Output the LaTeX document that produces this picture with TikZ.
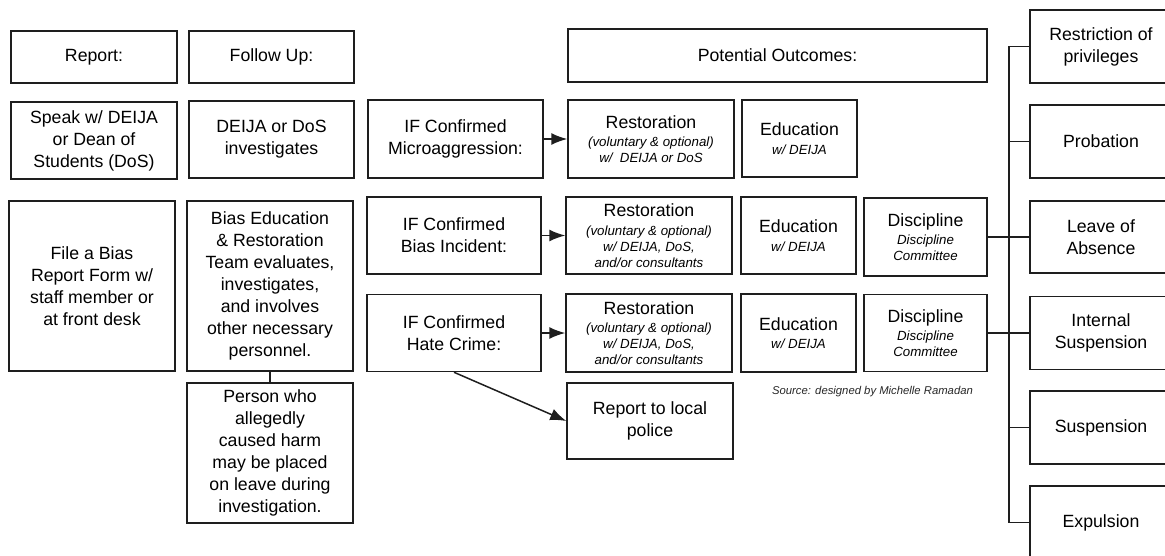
\documentclass[tikz,border=0pt]{standalone}
\usepackage{fontspec}
\setmainfont{Liberation Sans}
\usetikzlibrary{arrows.meta}
\tikzset{>={Latex[length=16pt,width=12pt]}}
\definecolor{edge}{HTML}{1E1E1E}
\newcommand\bigtxt{\fontsize{17.7}{22}\selectfont}
\newcommand\smalltxt{\fontsize{13.3}{16}\selectfont\itshape}
\newcommand\srctxt{\fontsize{11.3}{14}\selectfont\itshape}
\newcommand\headline[1]{{\bigtxt\upshape #1}}
\tikzstyle{box}=[draw=edge,line width=1.5pt,align=center,inner sep=2pt,font=\bigtxt,text=black]
\tikzstyle{twofont}=[box,font=\smalltxt]
\tikzstyle{link}=[draw=edge,line width=1.5pt]

\begin{document}
\begin{tikzpicture}[x=1pt,y=-1pt]
  \useasboundingbox (0,0) rectangle (1165,555);
  \clip (0,0) rectangle (1165,555);
  % report / follow up
  \node[box,minimum width=166pt,minimum height=52pt] (report) at (94,57) {Report:};
  \node[box,minimum width=165pt,minimum height=52pt] (follow) at (271.5,57) {Follow Up:};
  \node[box,minimum width=166pt,minimum height=77pt] (speak) at (94,140.5) {Speak w/ DEIJA\\or Dean of\\Students (DoS)};
  \node[box,minimum width=165pt,minimum height=77pt] (dosinv) at (271.5,139.5) {DEIJA or DoS\\investigates};
  \node[box,minimum width=166pt,minimum height=170pt] (fileform) at (92,286) {File a Bias\\Report Form w/\\staff member or\\at front desk};
  \node[box,minimum width=166pt,minimum height=170pt] (berteam) at (270,286) {Bias Education\\\& Restoration\\Team evaluates,\\investigates,\\and involves\\other necessary\\personnel.};
  \node[box,minimum width=166pt,minimum height=140pt] (leavenote) at (270,453) {Person who\\allegedly\\caused harm\\may be placed\\on leave during\\investigation.};
  \draw[link] (berteam) -- (leavenote);
  % confirmed cases
  \node[box,minimum width=175pt,minimum height=78pt] (micro) at (455.5,139) {IF Confirmed\\Microaggression:};
  \node[box,minimum width=174pt,minimum height=77pt] (biasinc) at (454,235.5) {IF Confirmed\\Bias Incident:};
  \node[box,minimum width=174pt,minimum height=77pt] (hate) at (454,333) {IF Confirmed\\Hate Crime:};
  % outcomes
  \node[box,minimum width=419pt,minimum height=53pt] (outcomes) at (777.5,55.5) {Potential Outcomes:};
  \node[twofont,minimum width=166pt,minimum height=78pt] (resto1) at (651,139) {\headline{Restoration}\\[2.4pt](voluntary \& optional)\\w/~~DEIJA or DoS};
  \node[twofont,minimum width=166pt,minimum height=77pt] (resto2) at (649,235.5) {\headline{Restoration}\\[2.4pt](voluntary \& optional)\\w/ DEIJA, DoS,\\and/or consultants};
  \node[twofont,minimum width=166pt,minimum height=78pt] (resto3) at (649,333) {\headline{Restoration}\\[2.4pt](voluntary \& optional)\\w/ DEIJA, DoS,\\and/or consultants};
  \node[box,minimum width=166pt,minimum height=76pt] (police) at (650,421) {Report to local\\police};
  \node[twofont,minimum width=115pt,minimum height=77pt] (edu1) at (799.5,138.5) {\headline{Education}\\[2.4pt]w/ DEIJA};
  \node[twofont,minimum width=115pt,minimum height=77pt] (edu2) at (798.5,235.5) {\headline{Education}\\[2.4pt]w/ DEIJA};
  \node[twofont,minimum width=115pt,minimum height=78pt] (edu3) at (798.5,333) {\headline{Education}\\[2.4pt]w/ DEIJA};
  \node[twofont,minimum width=123pt,minimum height=78pt] (disc2) at (925.5,237) {\headline{Discipline}\\[2.4pt]Discipline\\Committee};
  \node[twofont,minimum width=123pt,minimum height=77pt] (disc3) at (925.5,333) {\headline{Discipline}\\[2.4pt]Discipline\\Committee};
  \node[font=\srctxt,text=black!85] (source) at (872.5,392) {Source: designed by Michelle Ramadan};
  \draw[link,->] (micro) -- (resto1);
  \draw[link,->] (biasinc) -- (resto2);
  \draw[link,->] (hate) -- (resto3);
  \draw[link,->] (hate.south) -- (police.west);
  % sanctions
  \coordinate (spine) at (1009,0);
  \node[box,minimum width=142pt,minimum height=73pt] (restrict) at (1101,46.5) {Restriction of\\privileges};
  \node[box,minimum width=142pt,minimum height=73pt] (probation) at (1101,141.5) {Probation};
  \node[box,minimum width=142pt,minimum height=72pt] (leave) at (1101,237) {Leave of\\Absence};
  \node[box,minimum width=142pt,minimum height=73pt] (internal) at (1101,333) {Internal\\Suspension};
  \node[box,minimum width=142pt,minimum height=73pt] (suspend) at (1101,427.5) {Suspension};
  \node[box,minimum width=142pt,minimum height=73pt] (expel) at (1101,522.5) {Expulsion};
  \draw[link] (restrict.west) -| (spine |- expel.west) -- (expel.west);
  \draw[link] (probation.west) -- (spine |- probation.west);
  \draw[link] (suspend.west) -- (spine |- suspend.west);
  \draw[link] (disc2) -- (leave);
  \draw[link] (disc3) -- (internal);
\end{tikzpicture}
\end{document}
